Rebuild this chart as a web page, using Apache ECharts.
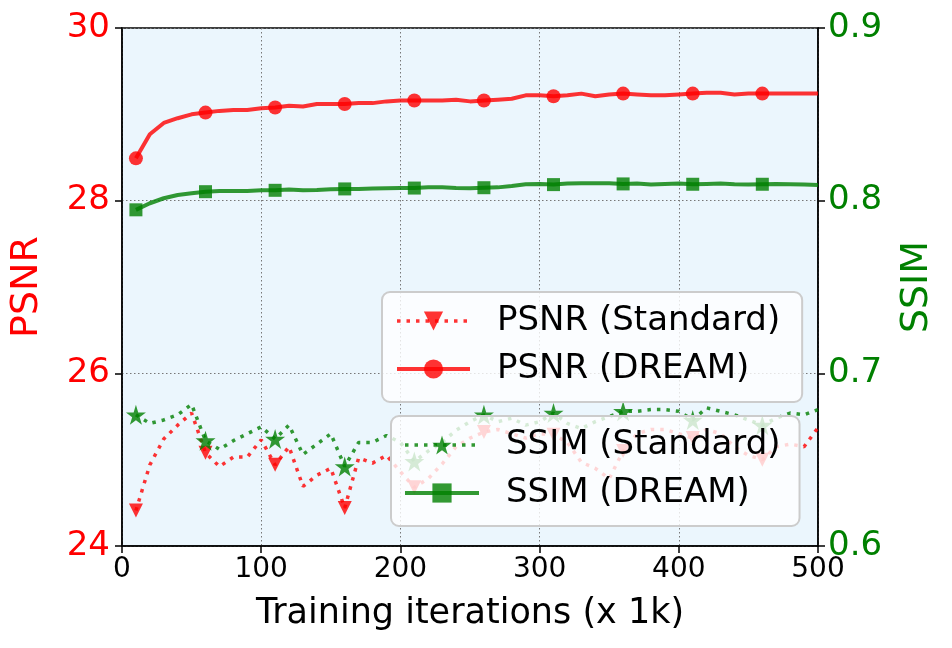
<!DOCTYPE html>
<html>
<head>
<meta charset="utf-8">
<script src="https://cdn.jsdelivr.net/npm/echarts@6/dist/echarts.min.js"></script>
<style>
  html, body { margin: 0; padding: 0; background: #fff; }
  #chart { width: 952px; height: 648px; }
</style>
</head>
<body>
<div id="chart"></div>
<script>
var iters = [10, 20, 30, 40, 50, 60, 70, 80, 90, 100,
    110, 120, 130, 140, 150, 160, 170, 180, 190, 200,
    210, 220, 230, 240, 250, 260, 270, 280, 290, 300,
    310, 320, 330, 340, 350, 360, 370, 380, 390, 400,
    410, 420, 430, 440, 450, 460, 470, 480, 490, 500];

var psnrStd = [24.41, 24.94, 25.24, 25.40, 25.54, 25.08, 24.92, 25.03, 25.03, 25.23,
    24.94, 25.15, 24.69, 24.82, 24.90, 24.44, 25.02, 24.96, 25.05, 24.86,
    24.68, 24.78, 24.95, 25.15, 25.25, 25.32, 25.35, 25.30, 25.25, 25.30,
    25.29, 25.20, 24.97, 24.90, 24.78, 25.10, 25.30, 25.35, 25.35, 25.30,
    25.25, 25.35, 25.30, 25.15, 25.05, 25.00, 25.15, 25.18, 25.15, 25.37];

var psnrDream = [28.49, 28.77, 28.90, 28.955, 29.00, 29.02, 29.04, 29.05, 29.05, 29.07,
    29.08, 29.10, 29.09, 29.12, 29.12, 29.12, 29.13, 29.13, 29.15, 29.16,
    29.16, 29.16, 29.16, 29.17, 29.15, 29.16, 29.17, 29.18, 29.22, 29.22,
    29.21, 29.22, 29.24, 29.21, 29.23, 29.24, 29.23, 29.22, 29.22, 29.23,
    29.24, 29.25, 29.25, 29.23, 29.24, 29.24, 29.24, 29.24, 29.24, 29.24];

var ssimStd = [0.676, 0.671, 0.673, 0.676, 0.682, 0.661, 0.656, 0.661, 0.665, 0.669,
    0.662, 0.670, 0.653, 0.659, 0.665, 0.646, 0.660, 0.660, 0.664, 0.660,
    0.649, 0.655, 0.660, 0.667, 0.672, 0.676, 0.672, 0.674, 0.670, 0.672,
    0.677, 0.671, 0.668, 0.672, 0.675, 0.678, 0.678, 0.679, 0.679, 0.678,
    0.673, 0.680, 0.678, 0.676, 0.673, 0.670, 0.674, 0.677, 0.676, 0.679];

var ssimDream = [0.7947, 0.7985, 0.8014, 0.8033, 0.8043, 0.8052, 0.8056, 0.8056, 0.8056, 0.8060,
    0.8060, 0.8064, 0.8060, 0.8062, 0.8066, 0.8068, 0.8068, 0.8070, 0.8072, 0.8073,
    0.8073, 0.8077, 0.8077, 0.8073, 0.8072, 0.8075, 0.8077, 0.8085, 0.8095, 0.8097,
    0.8093, 0.8099, 0.8101, 0.8101, 0.8101, 0.8097, 0.8099, 0.8093, 0.8097, 0.8099,
    0.8095, 0.8097, 0.8099, 0.8095, 0.8093, 0.8095, 0.8097, 0.8095, 0.8093, 0.8091];

var psnrTicks = ['24', '26', '28', '30'];
var ssimTicks = ['0.6', '0.7', '0.8', '0.9'];

var RED = '#ff0000';
var GREEN = '#008000';
var STAR = 'path://M50,0 L61,35 L98,35 L68,57 L79,91 L50,70 L21,91 L32,57 L2,35 L39,35 Z';
var FONT = 'DejaVu Sans';
var DOTS = [3.5, 6];

// markers only on every 5th point (markevery=5)
function points(vals) {
    return vals.map(function (v, i) {
        var item = {value: [iters[i], v]};
        if (i % 5 !== 0) item.symbol = 'none';
        return item;
    });
}

function curve(name, vals, axis, color, symbol, size, dotted) {
    return {
        name: name,
        type: 'line',
        yAxisIndex: axis,
        data: points(vals),
        symbol: symbol,
        symbolSize: size,
        symbolRotate: symbol === 'triangle' ? 180 : 0,
        showAllSymbol: true,
        animation: false,
        lineStyle: {
            color: color,
            width: dotted ? 3.5 : 4,
            type: dotted ? DOTS : 'solid',
            opacity: 0.8,
            cap: 'butt'
        },
        itemStyle: {color: color, opacity: 0.8},
        emphasis: {disabled: true}
    };
}

function legendItem(name, dotted) {
    return {
        name: name,
        lineStyle: {width: dotted ? 3.5 : 4, type: dotted ? DOTS : 'solid', opacity: 0.8}
    };
}

var chart = echarts.init(document.getElementById('chart'));

var legendText = {fontFamily: FONT, fontSize: 34, color: '#000', padding: [0, 0, 0, 22]};

var option = {
    animation: false,
    grid: {
        left: 122, right: 134, top: 28, bottom: 102,
        show: true,
        backgroundColor: '#ebf6fd',
        borderColor: '#000',
        borderWidth: 1.5
    },
    legend: [
        {
            data: [legendItem('PSNR (Standard)', true), legendItem('PSNR (DREAM)', false)],
            orient: 'vertical',
            left: 382, top: 292,
            padding: [12, 22, 16, 13],
            itemWidth: 73, itemHeight: 24, itemGap: 14,
            backgroundColor: 'rgba(255,255,255,0.8)',
            borderColor: '#cccccc', borderWidth: 2, borderRadius: 8,
            textStyle: legendText
        },
        {
            data: [legendItem('SSIM (Standard)', true), legendItem('SSIM (DREAM)', false)],
            orient: 'vertical',
            left: 391, top: 416,
            padding: [12, 19, 16, 12],
            itemWidth: 74, itemHeight: 24, itemGap: 14,
            backgroundColor: 'rgba(255,255,255,0.8)',
            borderColor: '#cccccc', borderWidth: 2, borderRadius: 8,
            textStyle: legendText
        }
    ],
    xAxis: {
        type: 'value',
        min: 0, max: 500, interval: 100,
        name: 'Training iterations (x 1k)',
        nameLocation: 'middle',
        nameGap: 50,
        nameTextStyle: {fontFamily: FONT, fontSize: 35, color: '#000'},
        axisLine: {show: true, lineStyle: {color: '#000', width: 1.5}},
        axisTick: {show: true, length: 7, lineStyle: {color: '#000', width: 1.5}},
        axisLabel: {fontFamily: FONT, fontSize: 28, color: '#000', margin: 10},
        splitLine: {show: true, lineStyle: {color: '#777', width: 1, type: [1.5, 2.5]}}
    },
    yAxis: [
        {
            type: 'value',
            min: 24, max: 30, interval: 2,
            name: 'PSNR',
            nameLocation: 'middle',
            nameGap: 76,
            nameTextStyle: {fontFamily: FONT, fontSize: 38, color: RED},
            axisLine: {show: true, lineStyle: {color: '#000', width: 1.5}},
            axisTick: {show: true, length: 7, lineStyle: {color: '#000', width: 1.5}},
            axisLabel: {
                fontFamily: FONT, fontSize: 34, color: RED, margin: 12,
                formatter: function (v) { return psnrTicks[Math.round((v - 24) / 2)]; }
            },
            splitLine: {show: true, lineStyle: {color: '#777', width: 1, type: [1.5, 2.5]}}
        },
        {
            type: 'value',
            min: 0.6, max: 0.9, interval: 0.1,
            position: 'right',
            name: 'SSIM',
            nameLocation: 'middle',
            nameGap: 80,
            nameRotate: 90,
            nameTextStyle: {fontFamily: FONT, fontSize: 38, color: GREEN},
            axisLine: {show: true, lineStyle: {color: '#000', width: 1.5}},
            axisTick: {show: true, length: 7, lineStyle: {color: '#000', width: 1.5}},
            axisLabel: {
                fontFamily: FONT, fontSize: 34, color: GREEN, margin: 10,
                formatter: function (v) { return ssimTicks[Math.round((v - 0.6) * 10)]; }
            },
            splitLine: {show: false}
        }
    ],
    series: [
        curve('PSNR (Standard)', psnrStd, 0, RED, 'triangle', 14, true),
        curve('PSNR (DREAM)', psnrDream, 0, RED, 'circle', 14, false),
        curve('SSIM (Standard)', ssimStd, 1, GREEN, STAR, 20, true),
        curve('SSIM (DREAM)', ssimDream, 1, GREEN, 'rect', 13, false)
    ]
};

chart.setOption(option);
window.onresize = chart.resize;
</script>
</body>
</html>
